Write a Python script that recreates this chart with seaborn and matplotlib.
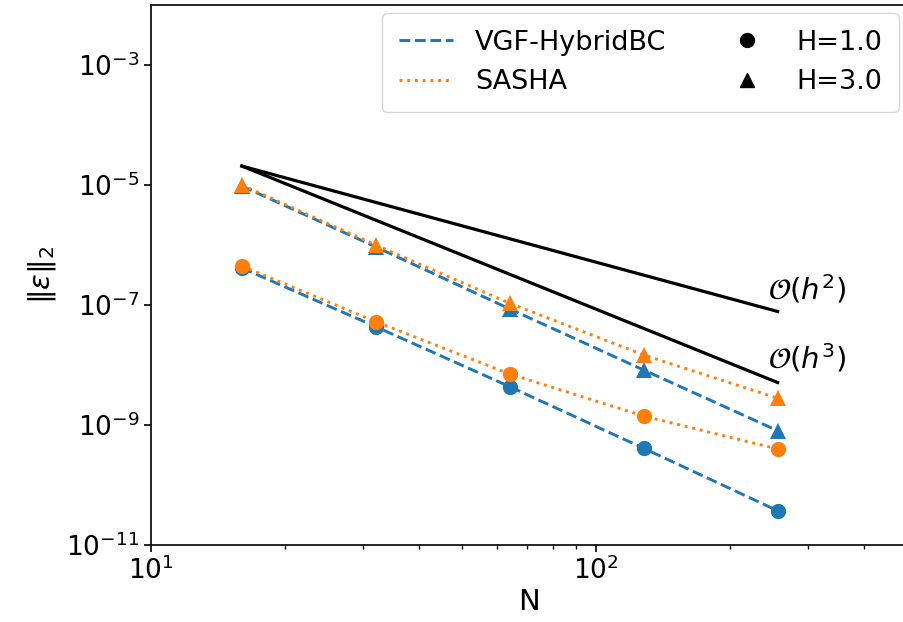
"""
Convergence plot: L2 error vs N for VGF-HybridBC and SASHA
"""
import numpy as np
import pandas as pd
import matplotlib
matplotlib.use("Agg")
import matplotlib.pyplot as plt
from matplotlib.lines import Line2D
import seaborn as sns

# values
N = [16, 32, 64, 128, 256]
vgf_h1 = [4.14e-7, 4.35e-8, 4.35e-9, 4.09e-10, 3.73e-11]
vgf_h3 = [9.6e-6, 9.3e-7, 8.6e-8, 8.25e-9, 8.04e-10]
sasha_h1 = [4.47e-7, 5.27e-8, 7.08e-9, 1.41e-9, 3.98e-10]
sasha_h3 = [1.0e-5, 1.0e-6, 1.07e-7, 1.47e-8, 2.79e-9]

# reference slopes (end points)
ref_N = [16, 256]
ref_h2 = [2.07e-5, 7.8e-8]
ref_h3 = [2.07e-5, 5.1e-9]

BLUE = "#1f77b4"
ORANGE = "#ff7f0e"

plt.rcParams["font.family"] = ["DejaVu Sans"]
plt.rcParams["mathtext.fontset"] = "dejavusans"

fig = plt.figure(figsize=(9.04, 6.22), dpi=100)
ax = fig.add_axes([151 / 904, 77 / 622, 756 / 904, 540 / 622])

df = pd.concat([
    pd.DataFrame({"N": N, "err": vgf_h1, "method": "VGF-HybridBC", "H": "H=1.0"}),
    pd.DataFrame({"N": N, "err": vgf_h3, "method": "VGF-HybridBC", "H": "H=3.0"}),
    pd.DataFrame({"N": N, "err": sasha_h1, "method": "SASHA", "H": "H=1.0"}),
    pd.DataFrame({"N": N, "err": sasha_h3, "method": "SASHA", "H": "H=3.0"}),
])

styles = {"VGF-HybridBC": (BLUE, (0, (3.7, 1.6))), "SASHA": (ORANGE, (0, (1, 1.65)))}
markers = {"H=1.0": "o", "H=3.0": "^"}

sns.lineplot(x=ref_N, y=ref_h2, color="black", linewidth=2.3, ax=ax)
sns.lineplot(x=ref_N, y=ref_h3, color="black", linewidth=2.3, ax=ax)

for method in ["VGF-HybridBC", "SASHA"]:
    color, ls = styles[method]
    for h in ["H=1.0", "H=3.0"]:
        sub = df[(df["method"] == method) & (df["H"] == h)]
        sns.lineplot(data=sub, x="N", y="err", color=color, linestyle=ls,
                     linewidth=2.1, marker=markers[h], markersize=11,
                     markeredgewidth=0, ax=ax)

ax.set_xscale("log")
ax.set_yscale("log")
ax.set_xlim(10, 500)
ax.set_ylim(1e-11, 1e-2)
ax.set_yticks([1e-11, 1e-9, 1e-7, 1e-5, 1e-3])
ax.tick_params(axis="both", which="major", labelsize=19, length=5, width=1.2)
ax.tick_params(axis="both", which="minor", length=3, width=1.0)
ax.yaxis.set_minor_locator(matplotlib.ticker.NullLocator())
for sp in ax.spines.values():
    sp.set_linewidth(1.2)

ax.set_xlabel("N", fontsize=21, labelpad=2)
ax.set_ylabel(r"$\|\varepsilon\|_2$", fontsize=21, labelpad=6)

ax.text(244, 1.85e-7, r"$\mathcal{O}(h^2)$", fontsize=21, ha="left", va="center")
ax.text(244, 1.31e-8, r"$\mathcal{O}(h^3)$", fontsize=21, ha="left", va="center")

handles = [
    Line2D([], [], color=BLUE, linestyle=styles["VGF-HybridBC"][1], linewidth=2.1),
    Line2D([], [], color=ORANGE, linestyle=styles["SASHA"][1], linewidth=2.1),
    Line2D([], [], color="black", marker="o", linestyle="none", markersize=10),
    Line2D([], [], color="black", marker="^", linestyle="none", markersize=10),
]
labels = ["VGF-HybridBC", "SASHA", "H=1.0", "H=3.0"]
ax.legend(handles, labels, ncol=2, loc="upper right", fontsize=19.5,
          borderaxespad=0.3, borderpad=0.62, labelspacing=0.5,
          columnspacing=2.0, handlelength=2.0,
          framealpha=0.8, edgecolor="#cccccc")

fig.savefig("out.png", dpi=100)
